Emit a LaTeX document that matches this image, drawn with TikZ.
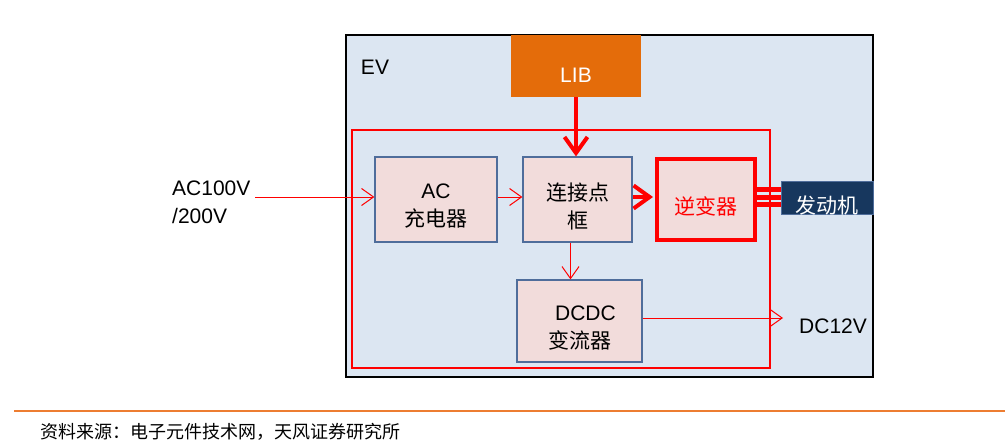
\documentclass[tikz,border=0pt]{standalone}
\usepackage{fontspec}
\setmainfont{Liberation Sans}
\newfontfamily\cjk{Noto Sans CJK SC}
\usetikzlibrary{arrows.meta}
\definecolor{ev blue}{HTML}{DCE6F2}
\definecolor{box pink}{HTML}{F2DCDB}
\definecolor{box edge}{HTML}{4F6D9B}
\definecolor{lib orange}{HTML}{E46C0A}
\definecolor{motor navy}{HTML}{17375E}
\definecolor{signal red}{HTML}{FF0000}
\definecolor{rule orange}{HTML}{ED7D31}
\tikzset{
    unit/.style={draw=box edge, fill=box pink, line width=1.2pt, inner sep=0pt},
    unit text/.style={align=center, inner sep=0pt, yshift=-7pt, font=\fontsize{21}{28}\selectfont},
    thin flow/.style={draw=signal red, line width=1pt,
        -{Straight Barb[length=12pt, width=17pt, line width=1pt]}},
    thick flow/.style={draw=signal red, line width=4pt,
        -{Straight Barb[length=16pt, width=23pt, line width=4pt]}},
    bus/.style={draw=signal red, line width=5pt},
}

\begin{document}
\begin{tikzpicture}[x=1pt, y=-1pt]
        \useasboundingbox (0, 0) rectangle (1005, 444);
        % vehicle frame
        \node[draw=black, fill=ev blue, line width=1.5pt, minimum width=527pt, minimum height=342pt] (ev) at (609.5, 206) {};
        \node[font=\fontsize{21}{21}\selectfont] (evlabel) at (375, 67) {EV};
        \node[fill=lib orange, minimum width=130pt, minimum height=62pt,
            label={[unit text, yshift=-2pt, text=white]center:LIB}] (lib) at (576, 66) {};
        \draw[signal red, line width=1.2pt] (352, 130) rectangle (770, 368);
        % units
        \node[unit, minimum width=122pt, minimum height=85pt,
            label={[unit text]center:{AC\\{\cjk 充电器}}}] (charger) at (436, 199.5) {};
        \node[unit, minimum width=109pt, minimum height=85pt,
            label={[unit text]center:{{\cjk 连接点}\\{\cjk 框}}}] (joint) at (577.5, 199.5) {};
        \node[unit, draw=signal red, line width=4pt, minimum width=98pt, minimum height=81pt,
            label={[unit text, text=signal red]center:{\cjk 逆变器}}] (inverter) at (706, 199.5) {};
        \node[unit, minimum width=125pt, minimum height=82pt,
            label={[unit text]center:{\hspace{12pt}DCDC\\{\cjk 变流器}}}] (dcdc) at (579.5, 321) {};
        \node[fill=motor navy, draw=box edge, minimum width=92pt, minimum height=33pt, inner sep=0pt,
            label={[unit text, yshift=-1pt, text=white]center:{\cjk 发动机}}] (motor) at (827, 197.5) {};
        % outside labels
        \node[align=left, anchor=north west, inner sep=0pt, font=\fontsize{21}{28}\selectfont] (acsrc) at (172, 181) {AC100V\\/200V};
        \node[anchor=west, inner sep=0pt, font=\fontsize{21}{21}\selectfont] (dcout) at (799, 326) {DC12V};
        \coordinate (acin) at (255, 197);
        \coordinate (dcend) at (783, 318);
        % flows
        \draw[thin flow] (acin) -- (acin -| charger.west);
        \draw[thin flow] (charger.east |- acin) -- (joint.west |- acin);
        \draw[thick flow] (lib.south) -- (lib.south |- joint.north);
        \draw[thick flow] (joint.east |- acin) -- ([xshift=-2pt]inverter.west |- acin);
        \draw[thin flow] ([xshift=-7pt]joint.south) -- ([xshift=-7pt]joint.south |- dcdc.north);
        \draw[thin flow] (dcdc.east |- dcend) -- (dcend);
        \foreach \s in {8, 0, -7} {
            \draw[bus] ([yshift=\s pt]motor.west) -- ([yshift=\s pt]motor.west -| inverter.east);
        }
        % source line
        \draw[rule orange, line width=2pt] (14, 411) -- (1005, 411);
        \node[anchor=west, inner sep=0pt, font=\fontsize{18}{18}\cjk] (source) at (40, 432) {资料来源：电子元件技术网，天风证券研究所};
    \end{tikzpicture}
\end{document}
